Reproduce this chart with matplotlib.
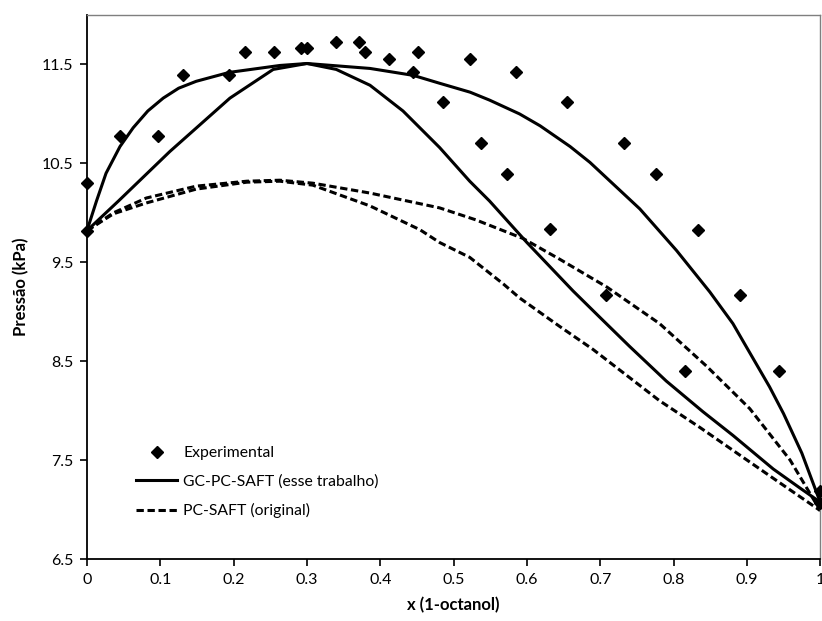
import matplotlib.pyplot as plt

plt.rcParams['font.family'] = ['Lato', 'DejaVu Sans']

# experimental P-x-y points
x_exp = [0.0, 0.0, 0.045, 0.0965, 0.131, 0.194, 0.215, 0.255, 0.292, 0.3005,
         0.339, 0.371, 0.379, 0.412, 0.445, 0.4516, 0.485, 0.5225, 0.5375,
         0.573, 0.585, 0.632, 0.655, 0.7085, 0.7326, 0.776, 0.816, 0.834,
         0.890, 0.9436, 1.0, 1.0]
p_exp = [9.82, 10.30, 10.78, 10.78, 11.39, 11.39, 11.63, 11.63, 11.67, 11.67,
         11.73, 11.73, 11.63, 11.56, 11.42, 11.63, 11.12, 11.56, 10.71,
         10.39, 11.42, 9.84, 11.12, 9.165, 10.71, 10.39, 8.405, 9.83,
         9.165, 8.405, 7.07, 7.19]

# GC-PC-SAFT (esse trabalho) - upper branch
x_gc1 = [0, 0.013, 0.026, 0.045, 0.063, 0.083, 0.104, 0.125, 0.149, 0.194,
         0.263, 0.30, 0.386, 0.445, 0.481, 0.5225, 0.549, 0.59, 0.618, 0.659,
         0.686, 0.754, 0.804, 0.8495, 0.881, 0.895, 0.931, 0.950, 0.975, 1.0]
p_gc1 = [9.82, 10.12, 10.40, 10.67, 10.86, 11.03, 11.16, 11.26, 11.33, 11.42,
         11.49, 11.51, 11.46, 11.39, 11.31, 11.22, 11.14, 11.00, 10.88, 10.67,
         10.51, 10.04, 9.62, 9.20, 8.88, 8.70, 8.24, 7.97, 7.57, 7.075]

# GC-PC-SAFT (esse trabalho) - lower branch
x_gc2 = [0, 0.043, 0.113, 0.195, 0.254, 0.30, 0.34, 0.386, 0.431, 0.481,
         0.522, 0.549, 0.60, 0.663, 0.70, 0.740, 0.79, 0.84, 0.881, 0.936,
         0.972, 1.0]
p_gc2 = [9.82, 10.12, 10.62, 11.16, 11.45, 11.51, 11.45, 11.29, 11.03, 10.66,
         10.32, 10.12, 9.70, 9.21, 8.94, 8.65, 8.30, 7.99, 7.75, 7.41,
         7.22, 7.075]

# PC-SAFT (original) - upper branch
x_pc1 = [0, 0.036, 0.081, 0.149, 0.218, 0.263, 0.308, 0.386, 0.481, 0.53,
         0.595, 0.645, 0.709, 0.781, 0.845, 0.904, 0.959, 1.0]
p_pc1 = [9.82, 10.00, 10.15, 10.27, 10.32, 10.33, 10.30, 10.20, 10.05, 9.93,
         9.74, 9.53, 9.25, 8.88, 8.45, 8.02, 7.50, 6.99]

# PC-SAFT (original) - lower branch
x_pc2 = [0, 0.036, 0.081, 0.149, 0.218, 0.263, 0.308, 0.386, 0.454, 0.481,
         0.522, 0.568, 0.59, 0.645, 0.69, 0.781, 0.836, 0.945, 1.0]
p_pc2 = [9.82, 9.99, 10.10, 10.24, 10.31, 10.32, 10.28, 10.07, 9.83, 9.70,
         9.55, 9.28, 9.14, 8.85, 8.62, 8.10, 7.83, 7.27, 6.99]

fig = plt.figure(figsize=(8.22, 6.21), dpi=100)
ax = fig.add_axes([0.1058, 0.0998, 0.892, 0.876])

ax.plot(x_exp, p_exp, 'D', color='black', ms=6, clip_on=False, zorder=3,
        label='Experimental')
ax.plot(x_gc1, p_gc1, '-', color='black', lw=2.2, label='GC-PC-SAFT (esse trabalho)')
ax.plot(x_gc2, p_gc2, '-', color='black', lw=2.2)
ax.plot(x_pc1, p_pc1, '--', color='black', lw=2.2, dashes=(2.4, 1.2),
        label='PC-SAFT (original)')
ax.plot(x_pc2, p_pc2, '--', color='black', lw=2.2, dashes=(2.4, 1.2))

ax.set_xlim(0, 1)
ax.set_ylim(6.5, 12.0)
ax.set_xticks([0, 0.1, 0.2, 0.3, 0.4, 0.5, 0.6, 0.7, 0.8, 0.9, 1])
ax.set_xticklabels(['0', '0.1', '0.2', '0.3', '0.4', '0.5', '0.6', '0.7', '0.8', '0.9', '1'])
ax.set_yticks([6.5, 7.5, 8.5, 9.5, 10.5, 11.5])
ax.tick_params(direction='out', length=5, width=1.2, labelsize=11.5, pad=5)

for s in ['left', 'bottom']:
    ax.spines[s].set_linewidth(1.3)
    ax.spines[s].set_color('black')
for s in ['top', 'right']:
    ax.spines[s].set_linewidth(1.0)
    ax.spines[s].set_color('#7f7f7f')

ax.set_xlabel('x (1-octanol)', fontsize=12, fontweight='bold', labelpad=7)
ax.set_ylabel('Pressão (kPa)', fontsize=12, fontweight='bold', labelpad=9)

ax.legend(loc='upper left', bbox_to_anchor=(0.0675, 0.207), frameon=False,
          fontsize=11.3, handlelength=2.6, handletextpad=0.38,
          labelspacing=0.9, borderpad=0, borderaxespad=0)

plt.savefig('out.png', dpi=100)
